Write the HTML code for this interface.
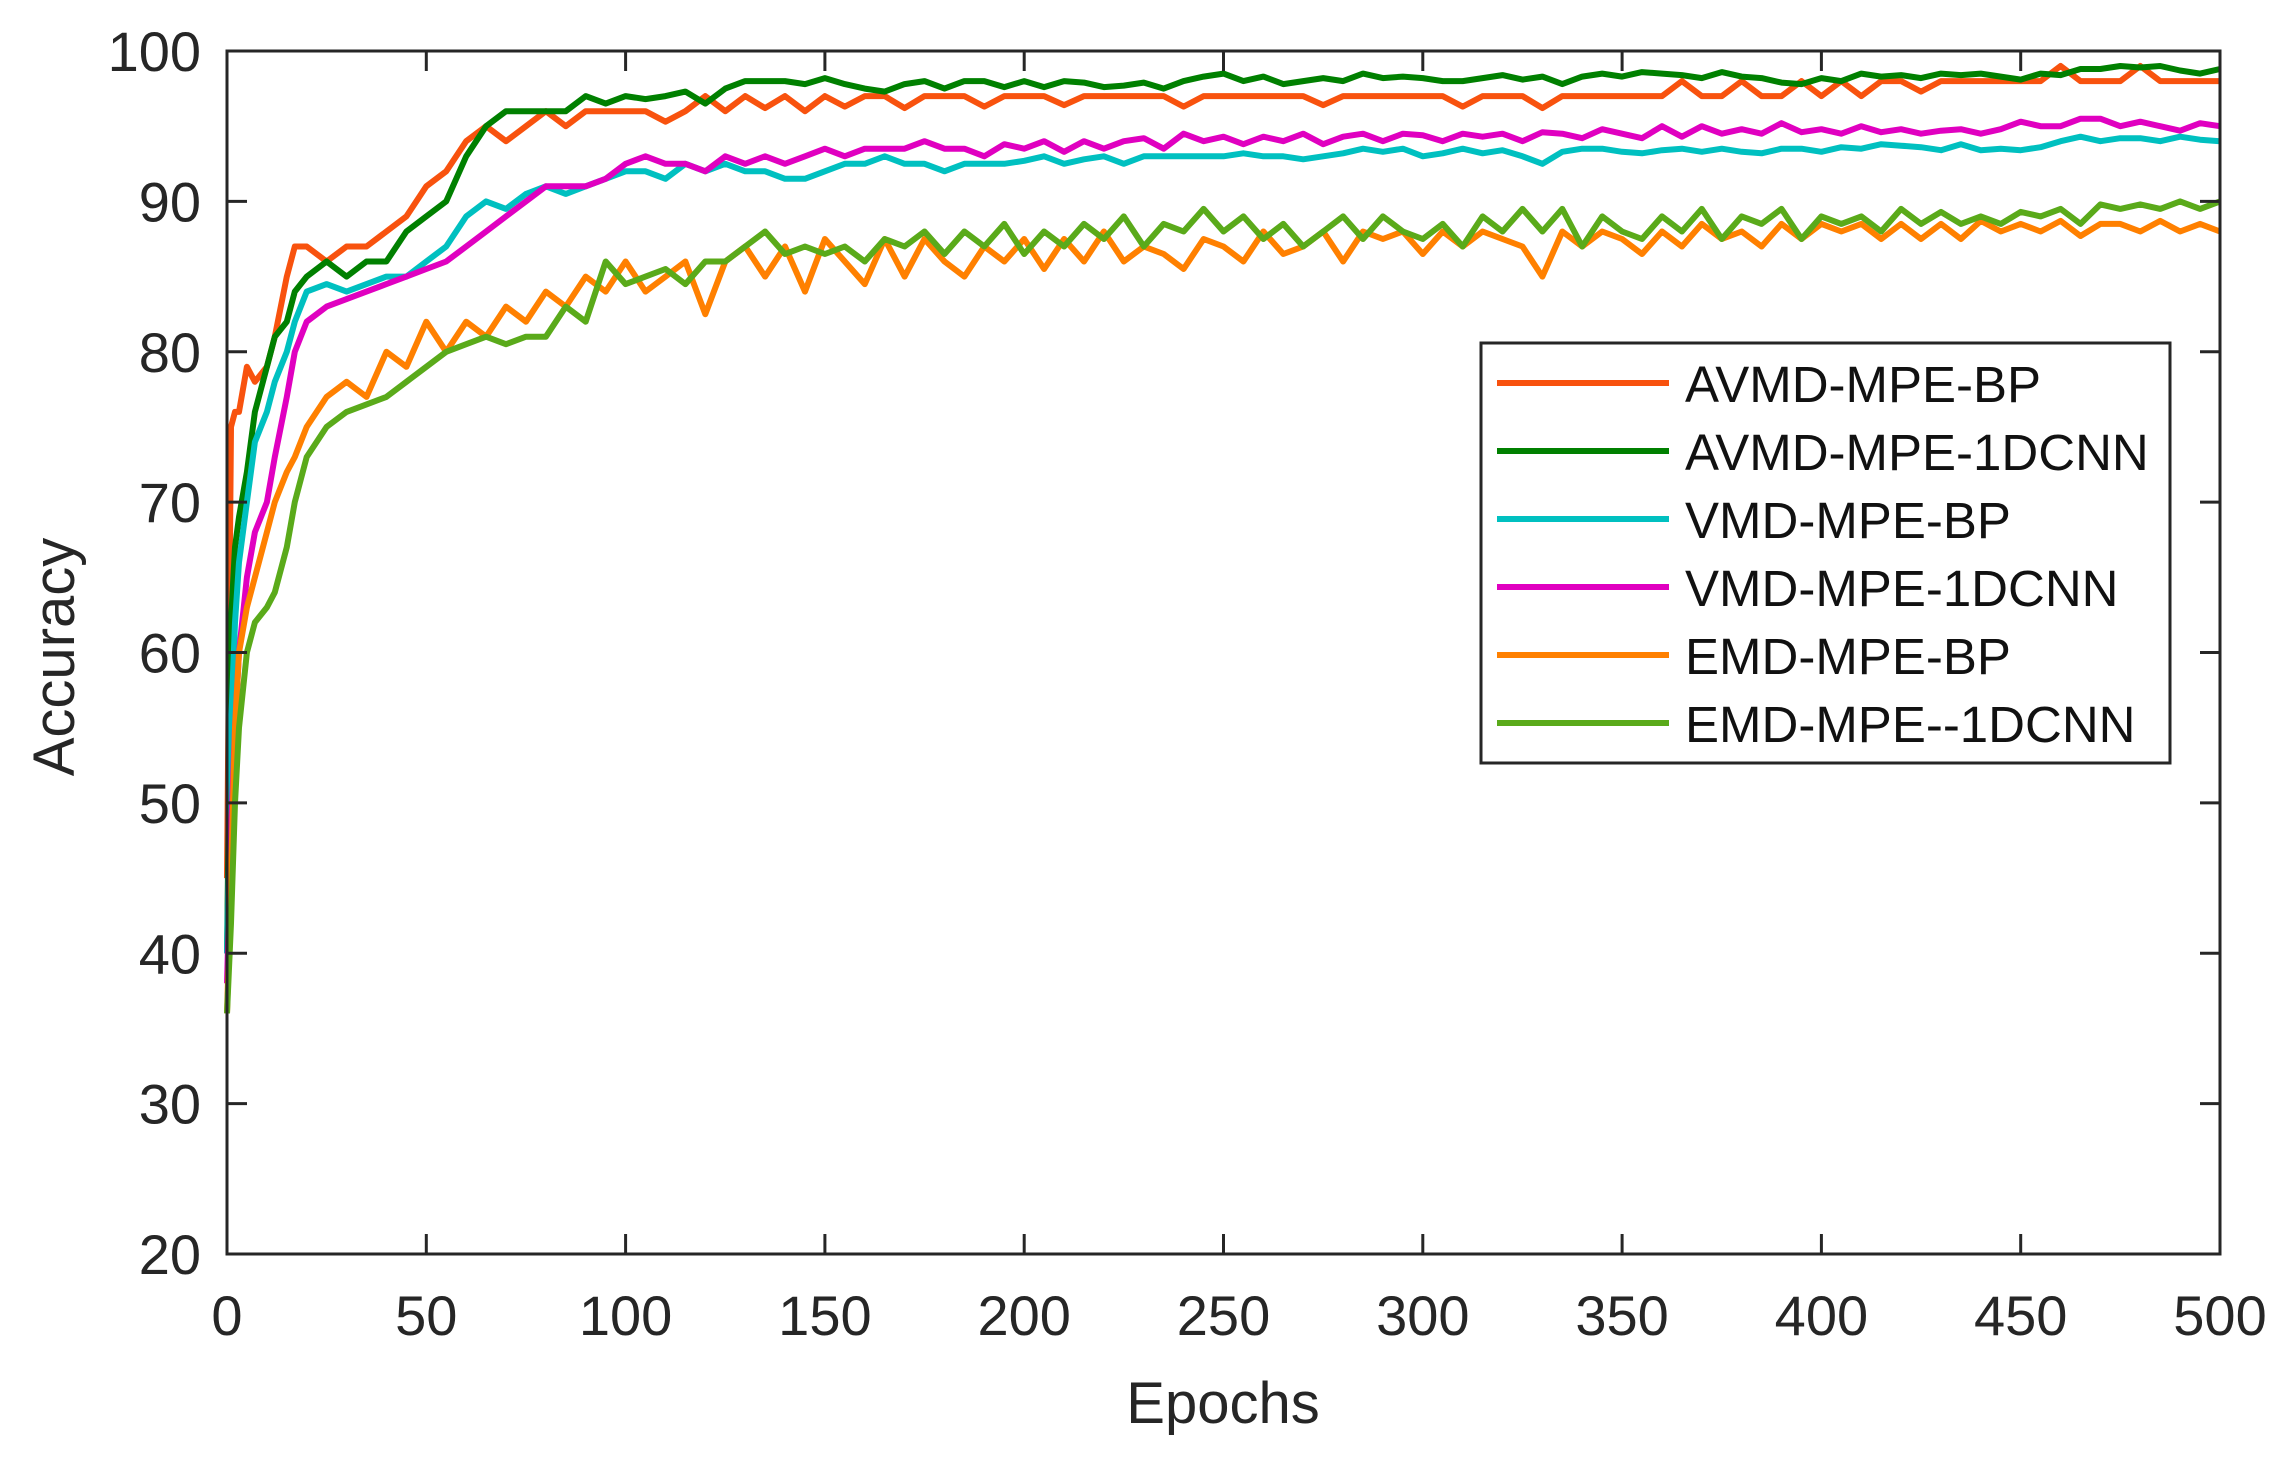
<!DOCTYPE html>
<html><head><meta charset="utf-8"><style>
html,body{margin:0;padding:0;background:#fff;}
svg{display:block;font-family:"Liberation Sans",Arial,sans-serif;}
</style></head><body>
<svg id="chart" width="2295" height="1462" viewBox="0 0 2295 1462" xmlns="http://www.w3.org/2000/svg">
<rect x="0" y="0" width="2295" height="1462" fill="#fff"/>
<g id="series"></g>
<g id="axes"></g>
<text x="1223" y="1423" font-size="58" fill="#262626" text-anchor="middle">Epochs</text>
<text transform="translate(74,657) rotate(-90)" font-size="58" fill="#262626" text-anchor="middle">Accuracy</text>
<g id="legend"></g>
</svg>
<script>
const epochs=[0,1,2,3,5,7,10,12,15,17,20,25,30,35,40,45,50,55,60,65,70,75,80,85,90,95,100,105,110,115,120,125,130,135,140,145,150,155,160,165,170,175,180,185,190,195,200,205,210,215,220,225,230,235,240,245,250,255,260,265,270,275,280,285,290,295,300,305,310,315,320,325,330,335,340,345,350,355,360,365,370,375,380,385,390,395,400,405,410,415,420,425,430,435,440,445,450,455,460,465,470,475,480,485,490,495,500];
const avmdBP=[45,75,76,76,79,78,79,81,85,87,87,86,87,87,88,89,91,92,94,95,94,95,96,95,96,96,96,96,95.3,96,97,96,97,96.2,97,96,97,96.3,97,97,96.2,97,97,97,96.3,97,97,97,96.4,97,97,97,97,97,96.3,97,97,97,97,97,97,96.4,97,97,97,97,97,97,96.3,97,97,97,96.2,97,97,97,97,97,97,98,97,97,98,97,97,98,97,98,97,98,98,97.3,98,98,98,98,98,98,99,98,98,98,99,98,98,98,98];
const avmd1DCNN=[40,62,67,69,72,76,79,81,82,84,85,86,85,86,86,88,89,90,93,95,96,96,96,96,97,96.5,97,96.8,97,97.3,96.5,97.5,98,98,98,97.8,98.2,97.8,97.5,97.3,97.8,98,97.5,98,98,97.6,98,97.6,98,97.9,97.6,97.7,97.9,97.5,98,98.3,98.5,98,98.3,97.8,98,98.2,98,98.5,98.2,98.3,98.2,98,98,98.2,98.4,98.1,98.3,97.8,98.3,98.5,98.3,98.6,98.5,98.4,98.2,98.6,98.3,98.2,97.9,97.8,98.2,98,98.5,98.3,98.4,98.2,98.5,98.4,98.5,98.3,98.1,98.5,98.4,98.8,98.8,99,98.9,99,98.7,98.5,98.8];
const vmdBP=[40,55,62,66,70,74,76,78,80,82,84,84.5,84,84.5,85,85,86,87,89,90,89.5,90.5,91,90.5,91,91.5,92,92,91.5,92.5,92,92.5,92,92,91.5,91.5,92,92.5,92.5,93,92.5,92.5,92,92.5,92.5,92.5,92.7,93,92.5,92.8,93,92.5,93,93,93,93,93,93.2,93,93,92.8,93,93.2,93.5,93.3,93.5,93,93.2,93.5,93.2,93.4,93,92.5,93.3,93.5,93.5,93.3,93.2,93.4,93.5,93.3,93.5,93.3,93.2,93.5,93.5,93.3,93.6,93.5,93.8,93.7,93.6,93.4,93.8,93.4,93.5,93.4,93.6,94,94.3,94,94.2,94.2,94,94.3,94.1,94];
const vmd1DCNN=[38,48,55,60,65,68,70,73,77,80,82,83,83.5,84,84.5,85,85.5,86,87,88,89,90,91,91,91,91.5,92.5,93,92.5,92.5,92,93,92.5,93,92.5,93,93.5,93,93.5,93.5,93.5,94,93.5,93.5,93,93.8,93.5,94,93.3,94,93.5,94,94.2,93.5,94.5,94,94.3,93.8,94.3,94,94.5,93.8,94.3,94.5,94,94.5,94.4,94,94.5,94.3,94.5,94,94.6,94.5,94.2,94.8,94.5,94.2,95,94.3,95,94.5,94.8,94.5,95.2,94.6,94.8,94.5,95,94.6,94.8,94.5,94.7,94.8,94.5,94.8,95.3,95,95,95.5,95.5,95,95.3,95,94.7,95.2,95];
const emdBP=[36,45,55,60,63,65,68,70,72,73,75,77,78,77,80,79,82,80,82,81,83,82,84,83,85,84,86,84,85,86,82.5,86,87,85,87,84,87.5,86,84.5,87.5,85,87.5,86,85,87,86,87.5,85.5,87.5,86,88,86,87,86.5,85.5,87.5,87,86,88,86.5,87,88,86,88,87.5,88,86.5,88,87,88,87.5,87,85,88,87,88,87.5,86.5,88,87,88.5,87.5,88,87,88.5,87.5,88.5,88,88.5,87.5,88.5,87.5,88.5,87.5,88.7,88,88.5,88,88.7,87.7,88.5,88.5,88,88.7,88,88.5,88];
const emd1DCNN=[36,42,50,55,60,62,63,64,67,70,73,75,76,76.5,77,78,79,80,80.5,81,80.5,81,81,83,82,86,84.5,85,85.5,84.5,86,86,87,88,86.5,87,86.5,87,86,87.5,87,88,86.5,88,87,88.5,86.5,88,87,88.5,87.5,89,87,88.5,88,89.5,88,89,87.5,88.5,87,88,89,87.5,89,88,87.5,88.5,87,89,88,89.5,88,89.5,87,89,88,87.5,89,88,89.5,87.5,89,88.5,89.5,87.5,89,88.5,89,88,89.5,88.5,89.3,88.5,89,88.5,89.3,89,89.5,88.5,89.8,89.5,89.8,89.5,90,89.5,90];
const seriesNames=["AVMD-MPE-BP","AVMD-MPE-1DCNN","VMD-MPE-BP","VMD-MPE-1DCNN","EMD-MPE-BP","EMD-MPE--1DCNN"];
const seriesColors=["#f8520e","#008000","#00c0c0","#e000c0","#ff8000","#5aaa1a"];
const xTicks=[0,50,100,150,200,250,300,350,400,450,500];
const yTicks=[20,30,40,50,60,70,80,90,100];

const L=227,R=2220,T=51,B=1254;
const xs=v=>L+(v-0)/(500-0)*(R-L);
const ys=v=>B-(v-20)/(100-20)*(B-T);
const NS="http://www.w3.org/2000/svg";
function mk(tag,attrs,parent){const e=document.createElementNS(NS,tag);for(const k in attrs)e.setAttribute(k,attrs[k]);parent.appendChild(e);return e;}

const allSeries=[avmdBP,avmd1DCNN,vmdBP,vmd1DCNN,emdBP,emd1DCNN];
const sg=document.getElementById('series');
const slugs=["avmd-mpe-bp","avmd-mpe-1dcnn","vmd-mpe-bp","vmd-mpe-1dcnn","emd-mpe-bp","emd-mpe-1dcnn"];
allSeries.forEach((vals,i)=>{
  const d=vals.map((v,j)=>(j?'L':'M')+xs(epochs[j]).toFixed(1)+','+ys(v).toFixed(1)).join(' ');
  const p=mk('path',{d:d,fill:'none',stroke:seriesColors[i],'stroke-width':6,'stroke-linejoin':'round'},sg);
  
  
});

const ag=document.getElementById('axes');
const box=mk('rect',{x:L,y:T,width:R-L,height:B-T,fill:'none',stroke:'#262626','stroke-width':3},ag);


xTicks.forEach(t=>{
  const x=xs(t);
  mk('line',{x1:x,y1:B,x2:x,y2:B-20,stroke:'#262626','stroke-width':3},ag);
  mk('line',{x1:x,y1:T,x2:x,y2:T+20,stroke:'#262626','stroke-width':3},ag);
  const tx=mk('text',{x:x,y:1335,'font-size':56,fill:'#262626','text-anchor':'middle'},ag);
  tx.textContent=t;
  
  
});
yTicks.forEach(t=>{
  const y=ys(t);
  mk('line',{x1:L,y1:y,x2:L+20,y2:y,stroke:'#262626','stroke-width':3},ag);
  mk('line',{x1:R,y1:y,x2:R-20,y2:y,stroke:'#262626','stroke-width':3},ag);
  const tx=mk('text',{x:201,y:y+20,'font-size':56,fill:'#262626','text-anchor':'end'},ag);
  tx.textContent=t;
  
  
});

const lg=document.getElementById('legend');
mk('rect',{x:1481,y:343,width:689,height:420,fill:'#fff',stroke:'#262626','stroke-width':3},lg);
seriesNames.forEach((n,i)=>{
  const y=383+i*68;
  const ln=mk('line',{x1:1497,y1:y,x2:1669,y2:y,stroke:seriesColors[i],'stroke-width':6},lg);
  
  
  const tx=mk('text',{x:1685,y:y+19,'font-size':51,fill:'#111'},lg);
  tx.textContent=n;
  
  
});
</script>
</body></html>
